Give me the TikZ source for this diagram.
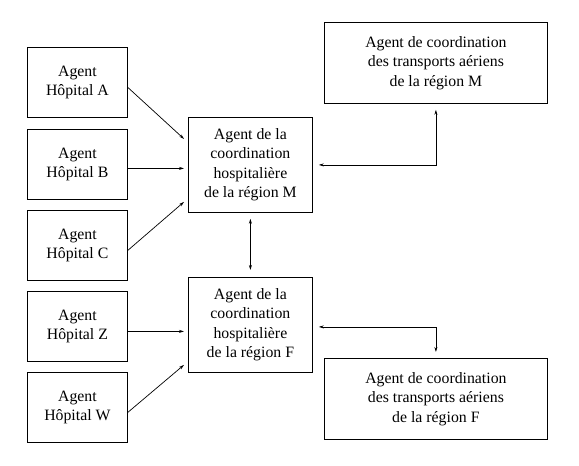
\documentclass[tikz,border=0pt]{standalone}
\usepackage{fontspec}
\setmainfont{Liberation Serif}
\usetikzlibrary{arrows.meta}
\begin{document}
\begin{tikzpicture}[x=1pt,y=-1pt,
  box/.style={draw, line width=0.8pt, anchor=north west, inner sep=0pt, align=center,
    font=\fontsize{15.8}{19.5}\selectfont},
  hbox/.style={box, minimum width=100pt, minimum height=70pt},
  cbox/.style={box, minimum width=124pt, minimum height=95pt},
  abox/.style={box, minimum width=223pt, minimum height=81pt},
  conn/.style={line width=0.7pt, -{Stealth[length=5pt,width=3pt]}},
  dconn/.style={line width=0.7pt, {Stealth[length=5pt,width=3pt]}-{Stealth[length=5pt,width=3pt]}}]
\useasboundingbox (0,0) rectangle (579,466);
\node[hbox] (A) at (27,47) {Agent\\Hôpital A};
\node[hbox] (B) at (27,129) {Agent\\Hôpital B};
\node[hbox] (C) at (27,210) {Agent\\Hôpital C};
\node[hbox] (Z) at (27,291) {Agent\\Hôpital Z};
\node[hbox] (W) at (27,372) {Agent\\Hôpital W};
\node[cbox] (M) at (188,117) {Agent de la\\coordination\\hospitalière\\de la région M};
\node[cbox] (F) at (188,277) {Agent de la\\coordination\\hospitalière\\de la région F};
\node[abox] (AM) at (324,22) {Agent de coordination\\des transports aériens\\de la région M};
\node[abox] (AF) at (324,358) {Agent de coordination\\des transports aériens\\de la région F};
\draw[conn] ([yshift=-5pt]A.east) -- ([xshift=-4pt,yshift=26pt]M.west);
\draw[conn] ([yshift=-4pt]B.east) -- ([xshift=-4pt,yshift=-3.5pt]M.west);
\draw[conn] ([yshift=-5pt]C.east) -- ([xshift=-4pt,yshift=-37pt]M.west);
\draw[conn] ([yshift=-5pt]Z.east) -- ([xshift=-4pt,yshift=-6.5pt]F.west);
\draw[conn] ([yshift=-5pt]W.east) -- ([xshift=-4pt,yshift=-40pt]F.west);
\draw[dconn] ([yshift=-6pt]M.south) -- ([yshift=7pt]F.north);
\draw[dconn] ([xshift=6pt]M.east) -| ([yshift=-6pt]AM.south);
\draw[dconn] ([xshift=6pt,yshift=-2pt]F.east) -| ([yshift=6pt]AF.north);
\end{tikzpicture}
\end{document}
